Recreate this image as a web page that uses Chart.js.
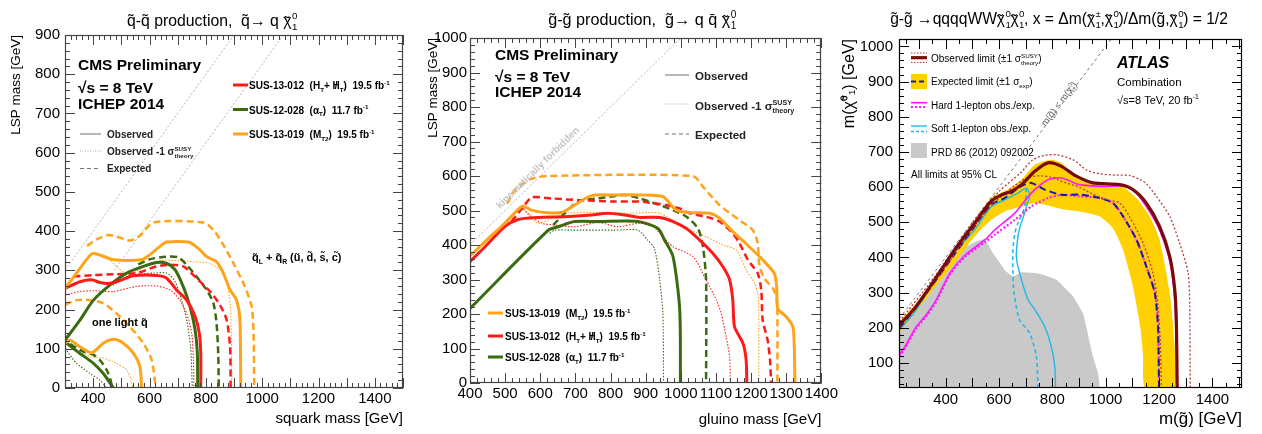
<!DOCTYPE html>
<html><head><meta charset="utf-8">
<script src="https://cdn.jsdelivr.net/npm/chart.js@4.4.0/dist/chart.umd.min.js"></script>
<style>
html,body{margin:0;padding:0;background:#fff;width:1262px;height:434px;overflow:hidden}
canvas{position:absolute;top:0}
</style></head><body>
<canvas id="c1" width="420" height="434" style="left:0px;width:420px;height:434px"></canvas>
<canvas id="c2" width="420" height="434" style="left:420px;width:420px;height:434px"></canvas>
<canvas id="c3" width="422" height="434" style="left:840px;width:422px;height:434px"></canvas>
<script>
// ================= DATA =================
// ---- Panel 1: squark-squark, x = squark mass, y = LSP mass ----
const sqXTicks = [400, 600, 800, 1000, 1200, 1400];
const sqYTicks = [0, 100, 200, 300, 400, 500, 600, 700, 800, 900];
const sqDiagA = [[300,300],[900,900]];
const sqDiagB = [[475,300],[1075,900]];
// q_L + q_R (8 degenerate light squarks)
const sqOrangeObs8 = [[300,254],[340,292],[395,342],[424,339],[472,327],[572,327],[596,337],[637,361],[661,372],[738,372],[773,356],[803,335],[838,322],[862,293],[886,250],[909,224],[921,173],[924,0]];
const sqOrangeExp8 = [[378,362],[410,378],[454,390],[483,386],[531,376],[566,388],[614,422],[791,422],[827,403],[862,365],[898,318],[939,258],[963,207],[969,148],[972,0]];
const sqOrangeM1s8 = [[455,330],[490,305],[520,292],[560,300],[600,318],[640,325],[700,325],[760,322],[815,318],[845,305],[862,293],[880,250],[888,199],[891,100],[892,0]];
const sqRedObs8 = [[300,254],[353,271],[395,276],[424,269],[460,267],[495,274],[543,286],[625,287],[661,280],[696,250],[732,224],[762,182],[777,139],[782,88],[782,0]];
const sqRedExp8 = [[330,284],[401,288],[472,290],[554,293],[625,310],[673,314],[720,310],[767,280],[815,246],[850,212],[874,173],[886,105],[888,0]];
const sqRedM1s8 = [[300,237],[353,246],[401,248],[472,246],[554,259],[625,260],[673,250],[708,224],[732,190],[750,139],[756,71],[758,0]];
const sqGreenObs8 = [[300,122],[353,173],[401,224],[460,263],[519,293],[578,310],[625,320],[661,318],[691,301],[720,258],[744,207],[762,148],[770,88],[771,0]];
const sqGreenExp8 = [[560,315],[600,328],[637,333],[673,335],[702,333],[732,314],[767,284],[803,250],[827,216],[838,165],[844,88],[846,0]];
const sqGreenM1s8 = [[470,262],[520,285],[580,292],[614,293],[661,293],[691,271],[714,224],[732,173],[746,105],[752,0]];
// one light squark
const sqOrangeObs1 = [[300,114],[318,122],[353,105],[395,90],[436,114],[472,124],[507,114],[543,88],[566,54],[572,0]];
const sqOrangeExp1 = [[300,212],[341,224],[389,224],[436,216],[483,190],[531,156],[578,114],[608,71],[622,0]];
const sqOrangeM1s1 = [[330,100],[389,80],[436,76],[483,63],[519,46],[535,20],[540,0]];
const sqGreenObs1 = [[306,114],[353,88],[401,63],[436,37],[472,0]];
const sqGreenExp1 = [[318,112],[365,93],[400,85],[424,71],[448,46],[462,20],[466,0]];
const sqGreenM1s1 = [[300,101],[341,63],[389,37],[424,20],[448,0]];

// ---- Panel 2: gluino-gluino -> qq chi ----
const glXTicks = [400,500,600,700,800,900,1000,1100,1200,1300,1400];
const glYTicks = [0,100,200,300,400,500,600,700,800,900,1000];
const glDiag = [[400,400],[1000,1000]];
const glOrangeObs = [[400,368],[443,410],[499,463],[537,503],[551,513],[575,501],[613,494],[660,494],[698,516],[746,543],[812,545],[883,545],[949,540],[987,501],[1025,494],[1082,492],[1110,478],[1148,439],[1195,395],[1233,357],[1266,318],[1273,279],[1276,216],[1300,192],[1319,163],[1323,105],[1325,0]];
const glOrangeExp = [[505,520],[530,560],[570,590],[620,600],[1034,600],[1063,569],[1110,516],[1167,472],[1205,443],[1219,405],[1224,340],[1240,300],[1262,275],[1273,245],[1275,200],[1275,0]];
const glOrangeM1s = [[552,506],[566,487],[594,463],[632,477],[670,492],[765,494],[859,492],[940,492],[1006,453],[1072,424],[1120,400],[1158,385],[1186,328],[1210,289],[1219,260],[1222,202],[1222,0]];
const glRedObs = [[400,352],[443,395],[499,453],[537,474],[594,480],[670,482],[746,487],[793,492],[840,487],[883,480],[940,480],[978,468],[1016,448],[1053,415],[1091,376],[1120,337],[1139,299],[1148,241],[1153,163],[1177,115],[1186,67],[1188,0]];
const glRedExp = [[518,468],[556,516],[575,538],[632,535],[708,530],[812,526],[883,526],[921,521],[959,516],[997,506],[1025,492],[1072,482],[1110,468],[1148,434],[1167,405],[1191,357],[1219,318],[1229,270],[1233,183],[1247,125],[1254,67],[1257,0]];
const glRedM1s = [[547,511],[575,482],[604,463],[641,458],[698,453],[765,465],[821,453],[883,463],[921,453],[949,424],[978,395],[1035,366],[1072,299],[1101,241],[1115,202],[1129,134],[1139,76],[1141,0]];
const glGreenObs = [[400,216],[623,443],[651,453],[698,468],[765,468],[878,468],[935,448],[954,414],[978,366],[997,212],[999,0]];
const glGreenExp = [[637,458],[670,492],[708,526],[765,535],[840,545],[883,535],[940,516],[978,501],[1016,482],[1049,448],[1063,395],[1072,299],[1072,0]];
const glGreenM1s = [[627,434],[641,443],[689,443],[812,443],[878,443],[905,415],[925,390],[940,299],[949,202],[951,0]];

// ---- Panel 3: ATLAS gluino -> qqqqWW chi chi ----
const atXTicks = [400,600,800,1000,1200,1400];
const atYTicks = [100,200,300,400,500,600,700,800,900,1000];
const atDiag = [[225,225],[1030,1030]];
const atObs = [[227,209],[284,256],[359,337],[434,422],[509,498],[571,560],[609,578],[646,588],[684,607],[734,645],[784,669],[834,659],[890,631],[952,612],[1052,607],[1102,593],[1152,555],[1202,488],[1240,403],[1259,308],[1265,214],[1268,29]];
const atObsUp = [[227,218],[359,346],[509,508],[600,588],[680,640],[727,678],[770,690],[815,692],[877,678],[930,648],[977,638],[1040,634],[1090,633],[1127,622],[1152,610],[1190,574],[1240,517],[1277,441],[1309,356],[1315,261],[1317,29]];
const atObsDn = [[227,203],[359,330],[509,490],[580,555],[620,580],[660,605],[709,628],[759,632],[796,628],[850,612],[900,600],[952,580],[1000,565],[1052,555],[1090,515],[1140,441],[1177,356],[1196,261],[1205,150],[1209,29]];
const atExpUp = [[227,218],[300,280],[434,420],[509,503],[571,570],[621,588],[684,621],[734,664],[796,678],[834,669],[902,621],[977,612],[1052,607],[1115,569],[1165,517],[1202,450],[1227,356],[1246,261],[1259,29]];
const atExpDn = [[1148,29],[1140,120],[1130,200],[1102,318],[1065,422],[1027,483],[977,517],[902,531],[834,538],[784,548],[734,555],[684,545],[621,531],[571,507],[509,460],[434,384],[334,290],[227,185]];
const atExp = [[227,200],[300,270],[434,410],[509,489],[571,551],[621,569],[684,603],[721,612],[771,593],[834,578],[902,579],[977,569],[1027,555],[1065,517],[1115,451],[1152,375],[1184,299],[1196,204],[1200,29]];
const atHardObs = [[227,124],[250,150],[287,200],[330,240],[365,280],[415,355],[470,405],[550,452],[584,478],[659,526],[721,583],[784,621],[834,626],[902,607],[990,602],[1077,602],[1115,583],[1165,530],[1202,478],[1240,390],[1259,280],[1264,150],[1266,29]];
const atHardExp = [[227,118],[250,145],[287,195],[330,235],[365,275],[415,350],[470,400],[550,445],[584,465],[659,507],[721,545],[784,569],[834,578],[902,574],[977,569],[1027,555],[1065,517],[1115,451],[1152,375],[1184,299],[1196,204],[1200,29]];
const atSoftObs = [[227,195],[284,245],[334,305],[434,415],[509,479],[571,545],[621,564],[671,583],[702,597],[715,578],[705,550],[696,526],[680,490],[671,460],[665,403],[677,356],[709,280],[734,252],[771,204],[796,147],[809,91],[812,29]];
const atSoftExp = [[702,597],[700,560],[690,530],[672,500],[660,470],[652,420],[652,356],[656,300],[677,223],[715,185],[740,119],[746,29]];
const atPrd = [[227,190],[271,242],[334,308],[396,375],[459,422],[515,446],[546,452],[577,413],[627,360],[652,346],[684,358],[752,354],[815,337],[877,290],[915,242],[927,204],[952,119],[971,72],[975,20],[227,20]];

// ================= HELPERS =================
const FAM = "'Liberation Sans', Helvetica, Arial, sans-serif";
Chart.defaults.font.family = FAM;
Chart.defaults.color = '#000';
const pts = a => a.map(([x, y]) => ({x, y}));
function ln(arr, color, w, dash, order, extra) {
  return Object.assign({data: pts(arr), showLine: true, borderColor: color, borderWidth: w,
    borderDash: dash || [], pointRadius: 0, pointHoverRadius: 0, fill: false, tension: 0.25,
    order: order, borderCapStyle: 'butt', borderJoinStyle: 'round'}, extra || {});
}
function layoutRich(ctx, parts, size, style) {
  const seg = []; let cx = 0, prevStart = 0;
  for (const p of parts) {
    const fs = p.s ? size * 0.62 : size;
    const f = `${style} ${fs}px ${FAM}`;
    ctx.font = f;
    const w = ctx.measureText(p.t).width;
    const px = p.back ? prevStart : cx;
    const base = p.s === 'sup' ? -size * 0.42 : p.s === 'sub' ? size * 0.26 : 0;
    seg.push({t: p.t, x: px + (p.dx || 0) * size / 10, dy: base + (p.dy || 0) * size / 10, f});
    if (!p.back) prevStart = px;
    if (!p.noAdv) cx = Math.max(cx, px + w);
  }
  return {seg, total: cx};
}
function rich(ctx, parts, x, y, size, style, align, fit) {
  let L = layoutRich(ctx, parts, size, style);
  if (fit) { size = size * fit / L.total; L = layoutRich(ctx, parts, size, style); }
  const x0 = align === 'center' ? x - L.total / 2 : align === 'right' ? x - L.total : x;
  ctx.textAlign = 'left'; ctx.textBaseline = 'alphabetic';
  for (const s of L.seg) { ctx.font = s.f; ctx.fillText(s.t, x0 + s.x, y + s.dy); }
}
function seg(ctx, x1, y1, x2, y2, color, w, dash) {
  ctx.save(); ctx.beginPath(); ctx.strokeStyle = color; ctx.lineWidth = w; ctx.setLineDash(dash || []);
  ctx.moveTo(x1, y1); ctx.lineTo(x2, y2); ctx.stroke(); ctx.restore();
}
function framePlugin(cfg) {
  return { id: 'frame', afterDatasetsDraw(chart) {
    const {ctx, chartArea: a, scales: {x, y}} = chart;
    ctx.save(); ctx.strokeStyle = cfg.color; ctx.lineWidth = 1; ctx.setLineDash([]);
    ctx.beginPath();
    const tick = (axis, step, len) => {
      const n0 = Math.ceil(axis.min / step - 1e-9), n1 = Math.floor(axis.max / step + 1e-9);
      for (let n = n0; n <= n1; n++) {
        const v = n * step;
        if (axis === x) { const p = Math.round(x.getPixelForValue(v)) + 0.5;
          ctx.moveTo(p, a.bottom); ctx.lineTo(p, a.bottom - len); ctx.moveTo(p, a.top); ctx.lineTo(p, a.top + len); }
        else { const p = Math.round(y.getPixelForValue(v)) + 0.5;
          ctx.moveTo(a.left, p); ctx.lineTo(a.left + len, p); ctx.moveTo(a.right, p); ctx.lineTo(a.right - len, p); }
      }
    };
    tick(x, cfg.xMin, cfg.minLen); tick(x, cfg.xMaj, cfg.majLen);
    tick(y, cfg.yMin, cfg.minLen); tick(y, cfg.yMaj, cfg.majLen);
    ctx.stroke();
    ctx.lineWidth = cfg.fw;
    ctx.strokeRect(Math.round(a.left) + 0.5, Math.round(a.top) + 0.5, Math.round(a.width) - 1, Math.round(a.height) - 1);
    ctx.restore();
  }};
}
function textPlugin(fn) { return { id: 'texts', afterDraw(chart) { const c = chart.ctx; c.save(); fn(c, chart); c.restore(); } }; }

function makePanel(id, P) {
  return new Chart(document.getElementById(id), {
    type: 'scatter',
    data: { datasets: P.datasets },
    options: {
      responsive: false, animation: false, devicePixelRatio: 1, events: [],
      layout: { padding: { left: 0, right: P.padR, top: P.padT, bottom: 0 } },
      plugins: { legend: { display: false }, tooltip: { enabled: false }, title: { display: false } },
      scales: {
        x: { type: 'linear', min: P.xMin, max: P.xMax,
          afterBuildTicks: s => { s.ticks = P.xTicks.map(v => ({value: v})); },
          afterFit: s => { s.height = P.xH; },
          grid: { display: false, drawTicks: false }, border: { display: false },
          ticks: { font: { size: P.tickSize }, color: '#000', padding: P.xPad, maxRotation: 0, autoSkip: false, callback: v => String(v) },
          title: { display: true, text: P.xTitle, align: 'end', font: { size: P.xTitleSize }, color: '#000', padding: { top: 0, bottom: P.xTitlePad } } },
        y: { type: 'linear', min: P.yMin, max: P.yMax,
          afterBuildTicks: s => { s.ticks = P.yTicks.map(v => ({value: v})); },
          afterFit: s => { s.width = P.yW; },
          grid: { display: false, drawTicks: false }, border: { display: false },
          ticks: { font: { size: P.tickSize }, color: '#000', padding: P.yPad, autoSkip: false, callback: v => String(v) },
          title: { display: true, text: P.yTitle, align: 'end', font: { size: P.yTitleSize }, color: '#000', padding: { top: P.yTitlePad, bottom: 0 } } }
      }
    },
    plugins: [framePlugin(P.frame), textPlugin(P.draw)]
  });
}

// ================= COLORS / TEXT PIECES =================
const RED = '#ff1a1a', GREEN = '#3a6b10', ORANGE = '#ffa31a', DIAG = '#b4b4b4';
const DASH = [7, 4], DOT = [1.5, 1.6];
// chi with a tilde drawn on top, then stacked super/subscript
const chi = (sup) => [{t: 'χ'}, {t: '˜', back: true, dx: 0.6, dy: 1.2, noAdv: true}, {t: sup || '0', s: 'sup', dx: 0.3}, {t: '1', s: 'sub', back: true, dx: 0.3}];
const CHI = chi('0');
const HT = [{t: 'H'}, {t: 'T', s: 'sub'}, {t: '+ '}, {t: 'H'}, {t: '/', back: true, dx: 2.2}, {t: 'T', s: 'sub'}];

// ================= PANEL 1 =================
makePanel('c1', {
  xMin: 300, xMax: 1500, yMin: 0, yMax: 900, xTicks: sqXTicks, yTicks: sqYTicks,
  padR: 17, padT: 35, xH: 46, yW: 65, tickSize: 15, xPad: 2, yPad: 5,
  xTitle: 'squark mass [GeV]', xTitleSize: 15, xTitlePad: 6,
  yTitle: 'LSP mass [GeV]', yTitleSize: 13.5, yTitlePad: 8,
  frame: { xMaj: 100, xMin: 20, yMaj: 100, yMin: 20, majLen: 10, minLen: 5, color: '#444', fw: 1.2 },
  datasets: [
    ln(sqOrangeObs8, ORANGE, 3, [], 1), ln(sqRedObs8, RED, 3, [], 1), ln(sqGreenObs8, GREEN, 3, [], 1),
    ln(sqOrangeObs1, ORANGE, 3, [], 1), ln(sqGreenObs1, GREEN, 3, [], 1),
    ln(sqOrangeExp8, ORANGE, 2.5, DASH, 2), ln(sqRedExp8, RED, 2.5, DASH, 2), ln(sqGreenExp8, GREEN, 2.5, DASH, 2),
    ln(sqOrangeExp1, ORANGE, 2.5, DASH, 2), ln(sqGreenExp1, GREEN, 2.5, DASH, 2),
    ln(sqOrangeM1s8, ORANGE, 1.1, DOT, 3), ln(sqRedM1s8, RED, 1.1, DOT, 3), ln(sqGreenM1s8, GREEN, 1.1, DOT, 3),
    ln(sqOrangeM1s1, ORANGE, 1.1, DOT, 3), ln(sqGreenM1s1, GREEN, 1.1, DOT, 3),
    ln(sqDiagA, DIAG, 1, [2, 2], 9, {tension: 0}), ln(sqDiagB, DIAG, 1, [2, 2], 9, {tension: 0})
  ],
  draw: (ctx) => {
    ctx.fillStyle = '#000';
    rich(ctx, [{t: 'q̃-q̃ production,  q̃→ q '}].concat(CHI), 212, 26, 15, '', 'center', 170);
    ctx.font = `bold 15.5px ${FAM}`; ctx.textAlign = 'left';
    ctx.fillText('CMS Preliminary', 78, 70);
    ctx.fillText('√s = 8 TeV', 78, 93);
    ctx.fillText('ICHEP 2014', 78, 109);
    seg(ctx, 80, 134, 101, 134, '#888', 1.2);
    seg(ctx, 80, 151, 101, 151, '#aaa', 1, [1, 1.5]);
    seg(ctx, 80, 168.5, 101, 168.5, '#777', 1.1, [4, 3]);
    ctx.fillStyle = '#222';
    rich(ctx, [{t: 'Observed'}], 107, 138, 10, 'bold', 'left');
    rich(ctx, [{t: 'Observed -1 σ'}, {t: 'SUSY', s: 'sup'}, {t: 'theory', s: 'sub', back: true}], 107, 155, 10, 'bold', 'left');
    rich(ctx, [{t: 'Expected'}], 107, 172, 10, 'bold', 'left');
    seg(ctx, 233, 85, 248, 85, RED, 3);
    seg(ctx, 233, 109.5, 248, 109.5, GREEN, 3);
    seg(ctx, 233, 134, 248, 134, ORANGE, 3);
    ctx.fillStyle = '#000';
    rich(ctx, [{t: 'SUS-13-012  ('}].concat(HT, [{t: ')  19.5 fb'}, {t: '-1', s: 'sup'}]), 249, 89, 10, 'bold', 'left');
    rich(ctx, [{t: 'SUS-12-028  (α'}, {t: 'T', s: 'sub'}, {t: ')  11.7 fb'}, {t: '-1', s: 'sup'}], 249, 113.5, 10, 'bold', 'left');
    rich(ctx, [{t: 'SUS-13-019  (M'}, {t: 'T2', s: 'sub'}, {t: ')  19.5 fb'}, {t: '-1', s: 'sup'}], 249, 138, 10, 'bold', 'left');
    rich(ctx, [{t: 'q̃'}, {t: 'L', s: 'sub'}, {t: ' + q̃'}, {t: 'R', s: 'sub'}, {t: ' (ũ, d̃, s̃, c̃)'}], 252, 261, 11, 'bold', 'left');
    rich(ctx, [{t: 'one light q̃'}], 92, 326, 11, 'bold', 'left');
  }
});

// ================= PANEL 2 =================
makePanel('c2', {
  xMin: 400, xMax: 1400, yMin: 0, yMax: 1000, xTicks: glXTicks, yTicks: glYTicks,
  padR: 18, padT: 38, xH: 51, yW: 50, tickSize: 15, xPad: 2, yPad: 3,
  xTitle: 'gluino mass [GeV]', xTitleSize: 15, xTitlePad: 5,
  yTitle: 'LSP mass [GeV]', yTitleSize: 13.5, yTitlePad: 5,
  frame: { xMaj: 100, xMin: 20, yMaj: 100, yMin: 20, majLen: 10, minLen: 5, color: '#444', fw: 1.2 },
  datasets: [
    ln(glOrangeObs, ORANGE, 3, [], 1), ln(glRedObs, RED, 3, [], 1), ln(glGreenObs, GREEN, 3, [], 1),
    ln(glOrangeExp, ORANGE, 2.5, DASH, 2), ln(glRedExp, RED, 2.5, DASH, 2), ln(glGreenExp, GREEN, 2.5, DASH, 2),
    ln(glOrangeM1s, ORANGE, 1.1, DOT, 3), ln(glRedM1s, RED, 1.1, DOT, 3), ln(glGreenM1s, GREEN, 1.1, DOT, 3),
    ln(glDiag, DIAG, 1, [2, 2], 9, {tension: 0})
  ],
  draw: (ctx) => {
    ctx.fillStyle = '#000';
    rich(ctx, [{t: 'g̃-g̃ production,  g̃→ q q̄ '}].concat(CHI), 222, 25, 15, '', 'center', 188);
    ctx.font = `bold 15.5px ${FAM}`; ctx.textAlign = 'left';
    ctx.fillText('CMS Preliminary', 75, 60);
    ctx.fillText('√s = 8 TeV', 75, 82);
    ctx.fillText('ICHEP 2014', 75, 97);
    seg(ctx, 245, 75, 269, 75, '#888', 1.2);
    seg(ctx, 245, 104, 269, 104, '#aaa', 1, [1, 1.5]);
    seg(ctx, 245, 134, 269, 134, '#777', 1.1, [4, 3]);
    ctx.fillStyle = '#222';
    rich(ctx, [{t: 'Observed'}], 275, 80, 11.5, 'bold', 'left');
    rich(ctx, [{t: 'Observed -1 σ'}, {t: 'SUSY', s: 'sup'}, {t: 'theory', s: 'sub', back: true}], 275, 110, 11.5, 'bold', 'left');
    rich(ctx, [{t: 'Expected'}], 275, 139, 11.5, 'bold', 'left');
    seg(ctx, 68, 313, 83, 313, ORANGE, 3);
    seg(ctx, 68, 336, 83, 336, RED, 3);
    seg(ctx, 68, 357, 83, 357, GREEN, 3);
    ctx.fillStyle = '#000';
    rich(ctx, [{t: 'SUS-13-019  (M'}, {t: 'T2', s: 'sub'}, {t: ')  19.5 fb'}, {t: '-1', s: 'sup'}], 85, 317, 10, 'bold', 'left');
    rich(ctx, [{t: 'SUS-13-012  ('}].concat(HT, [{t: ')  19.5 fb'}, {t: '-1', s: 'sup'}]), 85, 340, 10, 'bold', 'left');
    rich(ctx, [{t: 'SUS-12-028  (α'}, {t: 'T', s: 'sub'}, {t: ')  11.7 fb'}, {t: '-1', s: 'sup'}], 85, 361, 10, 'bold', 'left');
    ctx.save(); ctx.translate(120, 170); ctx.rotate(-Math.atan2(0.345, 0.352));
    ctx.fillStyle = '#c4c4c4'; ctx.font = `bold 10px ${FAM}`; ctx.textAlign = 'center'; ctx.fillText('kinematically forbidden', 0, 0);
    ctx.restore();
  }
});

// ================= PANEL 3 =================
const DRED = '#7a0a0a', DRED2 = '#b83a3a', YEL = '#ffd100', BLUE = '#1a1aa8', MAG = '#ff1aff', CYAN = '#22b8ea', GREY = '#c9c9c9';
makePanel('c3', {
  xMin: 225, xMax: 1511, yMin: 29, yMax: 1021, xTicks: atXTicks, yTicks: atYTicks,
  padR: 20, padT: 39, xH: 46, yW: 59, tickSize: 15, xPad: 3, yPad: 6,
  xTitle: 'm(g̃) [GeV]', xTitleSize: 17, xTitlePad: 4,
  yTitle: 'm(χ̃⁰₁) [GeV]', yTitleSize: 16, yTitlePad: 0,
  frame: { xMaj: 100, xMin: 50, yMaj: 100, yMin: 20, majLen: 10, minLen: 5, color: '#000', fw: 1.2 },
  datasets: [
    ln(atObs, DRED, 3.2, [], 1),
    ln(atObsUp, DRED2, 1.3, [2, 2], 2), ln(atObsDn, DRED2, 1.3, [2, 2], 2),
    ln(atExp, BLUE, 2, [7, 4], 3),
    ln(atHardObs, MAG, 1.6, [], 4), ln(atHardExp, MAG, 2.2, [2, 2], 5),
    ln(atSoftObs, CYAN, 1.4, [], 6), ln(atSoftExp, CYAN, 1.6, [4, 3], 6),
    ln(atDiag, '#777', 1, [3, 3], 8, {tension: 0}),
    ln(atExpUp.concat(atExpDn), YEL, 0, [], 9, {fill: 'shape', backgroundColor: YEL, borderColor: 'rgba(0,0,0,0)', tension: 0.2}),
    ln(atPrd, GREY, 0, [], 10, {fill: 'shape', backgroundColor: GREY, borderColor: 'rgba(0,0,0,0)', tension: 0.1})
  ],
  draw: (ctx) => {
    ctx.fillStyle = '#000';
    rich(ctx, [{t: 'g̃-g̃ →qqqqWW'}].concat(CHI, CHI, [{t: ', x = Δm('}], chi('±'), [{t: ','}], CHI,
      [{t: ')/Δm(g̃,'}], CHI, [{t: ') = 1/2'}]), 219, 24, 15, '', 'center', 338);
    // legend
    const lx1 = 71, lx2 = 87, tx = 91;
    seg(ctx, lx1, 53, lx2, 53, DRED2, 1.2, [1.5, 1.5]);
    seg(ctx, lx1, 57.7, lx2, 57.7, DRED, 3.2);
    seg(ctx, lx1, 62.5, lx2, 62.5, DRED2, 1.2, [1.5, 1.5]);
    ctx.fillStyle = YEL; ctx.fillRect(lx1, 74, 16, 15);
    seg(ctx, lx1, 81.5, lx2, 81.5, BLUE, 2, [5, 3]);
    seg(ctx, lx1, 102.7, lx2, 102.7, MAG, 1.6);
    seg(ctx, lx1, 107, lx2, 107, MAG, 2, [2, 2]);
    seg(ctx, lx1, 126, lx2, 126, CYAN, 1.4);
    seg(ctx, lx1, 131.5, lx2, 131.5, CYAN, 1.6, [3, 2]);
    ctx.fillStyle = GREY; ctx.fillRect(lx1, 143, 16, 15);
    ctx.fillStyle = '#000';
    rich(ctx, [{t: 'Observed limit (±1 σ'}, {t: 'SUSY', s: 'sup'}, {t: 'theory', s: 'sub', back: true}, {t: ')'}], tx, 62, 10, '', 'left');
    rich(ctx, [{t: 'Expected limit (±1 σ'}, {t: 'exp', s: 'sub'}, {t: ')'}], tx, 85, 10, '', 'left');
    rich(ctx, [{t: 'Hard 1-lepton obs./exp.'}], tx, 109, 10, '', 'left');
    rich(ctx, [{t: 'Soft 1-lepton obs./exp.'}], tx, 132, 10, '', 'left');
    rich(ctx, [{t: 'PRD 86 (2012) 092002'}], tx, 156, 10, '', 'left');
    rich(ctx, [{t: 'All limits at 95% CL'}], 71, 178, 10, '', 'left');
    ctx.font = `italic bold 16px ${FAM}`; ctx.textAlign = 'left'; ctx.fillText('ATLAS', 277, 68);
    rich(ctx, [{t: 'Combination'}], 277, 86, 11.5, '', 'left');
    rich(ctx, [{t: '√s=8 TeV, 20 fb'}, {t: '-1', s: 'sup'}], 277, 104, 11, '', 'left');
    ctx.save(); ctx.translate(219, 104); ctx.rotate(-Math.atan2(0.3518, 0.2667));
    ctx.fillStyle = '#666';
    rich(ctx, [{t: 'm(g̃) < m('}].concat(CHI, [{t: ')'}]), 0, 3, 9.5, '', 'center');
    ctx.restore();
  }
});
</script>
</body></html>
